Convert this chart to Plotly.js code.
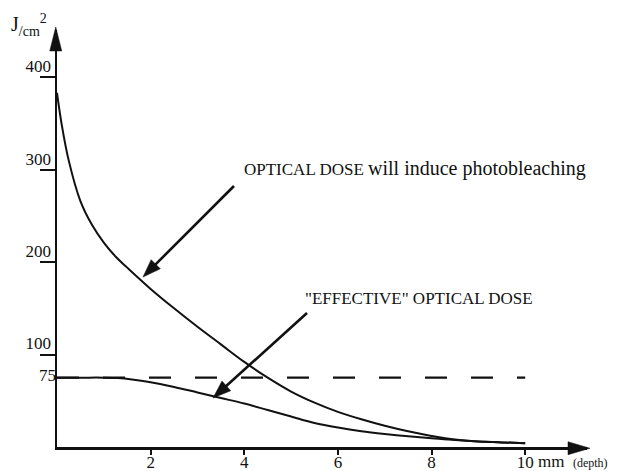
<!DOCTYPE html>
<html><head><meta charset="utf-8">
<script src="https://cdn.plot.ly/plotly-3.0.1.min.js"></script>
<style>html,body{margin:0;padding:0;background:#fff}#chart{width:627px;height:471px}</style>
</head><body><div id="chart"></div>
<script>
// ---- data ----
const depth = [0,0.1,0.25,0.5,0.75,1,1.25,1.5,2,2.5,3,3.5,4,4.5,5,5.5,6,6.5,7,7.5,8,8.5,9,9.5,10];
const opticalDose = [383,349,310,266,240,221,206,194,171,150,130,111,92,75,60,48,38,30,23,17,12,8,6,5,4];
const effDepth = [0,0.5,1,1.3,1.6,2,2.5,3,3.5,4,4.5,5,5.5,6,6.5,7,7.5,8,8.5,9,9.5,10];
const effectiveDose = [75,75,75,74.5,73,70,65,59,53,47,40,33,26,21,17,14,11.5,9.5,7.5,6,5,4];
const thresholdDepth = [0,10];
const thresholdDose = [75,75];
const yTickVals = [100,200,300,400];
const yTickText = ['100','200','300','400'];
const y2TickVals = [75];
const y2TickText = ['75'];
const xTickVals = [2,4,6,8,10];
const xTickText = ['2','4','6','8','10'];

// ---- layout geometry ----
const W = 627, H = 471;
const M = {l:57, r:40, t:30, b:24};
const xRange = [0, 11.32];
const yRange = [0, 451];
const PL = M.l, PR = W - M.r, PT = M.t, PB = H - M.b;
const xp = px => (px - PL) / (PR - PL);
const yp = py => (PB - py) / (PB - PT);
const FONT = 'Liberation Serif, Times New Roman, serif';
const INK = '#111';

function arrowShapes(sx, sy, tx, ty, len, hw, lw) {
  const dx = tx - sx, dy = ty - sy, d = Math.hypot(dx, dy);
  const ux = dx / d, uy = dy / d, nx = -uy, ny = ux;
  const bx = tx - ux * len, by = ty - uy * len;
  const out = [];
  if (lw > 0) out.push({type:'line', xref:'paper', yref:'paper',
    x0: xp(sx), y0: yp(sy), x1: xp(bx + ux*2), y1: yp(by + uy*2),
    line:{color:INK, width:lw}});
  const p = [[tx,ty],[bx+nx*hw, by+ny*hw],[bx-nx*hw, by-ny*hw]];
  out.push({type:'path', xref:'paper', yref:'paper',
    path: 'M' + p.map(q => xp(q[0]).toFixed(5) + ',' + yp(q[1]).toFixed(5)).join(' L') + ' Z',
    fillcolor: INK, line:{color:INK, width:0.5}});
  return out;
}

const shapes = [].concat(
  arrowShapes(55.75, 60, 55.75, 27, 24, 6, 0),       // y axis head
  arrowShapes(560, 448.25, 590, 448.25, 22, 6.5, 0), // x axis head
  arrowShapes(234, 186, 143, 277, 18, 6.5, 2.6),     // callout 1
  arrowShapes(307, 313, 213, 398, 18, 6.5, 2.6)      // callout 2
);

const traces = [
  {x: depth, y: opticalDose, type:'scatter', mode:'lines',
   line:{color:INK, width:2, shape:'spline', smoothing:1}, hoverinfo:'skip'},
  {x: effDepth, y: effectiveDose, type:'scatter', mode:'lines',
   line:{color:INK, width:2, shape:'spline', smoothing:1}, hoverinfo:'skip'},
  {x: thresholdDepth, y: thresholdDose, type:'scatter', mode:'lines', yaxis:'y2',
   line:{color:INK, width:2.4, dash:'22px,24px'}, hoverinfo:'skip'}
];

const layout = {
  width: W, height: H, margin: M,
  paper_bgcolor:'#fff', plot_bgcolor:'#fff', showlegend:false,
  font:{family: FONT, color: INK, size: 17},
  xaxis:{range: xRange, showgrid:false, zeroline:false, showline:true, linecolor:INK, linewidth:2.5,
    tickvals: xTickVals, ticktext: xTickText, ticks:'outside', ticklen:5, tickwidth:2, tickcolor:INK,
    ticklabelstandoff: -7,
    tickfont:{family:FONT, size:17, color:INK}},
  yaxis:{range: yRange, showgrid:false, zeroline:false, showline:true, linecolor:INK, linewidth:2.5,
    tickvals: yTickVals, ticktext: yTickText, ticks:'outside', ticklen:15, tickwidth:2, tickcolor:INK,
    ticklabelshift: -11, ticklabelstandoff: -15,
    tickfont:{family:FONT, size:17, color:INK}},
  yaxis2:{range: yRange, overlaying:'y', side:'left', anchor:'x', showgrid:false, zeroline:false,
    showline:false, tickvals: y2TickVals, ticktext: y2TickText, ticks:'',
    ticklabelshift: -3,
    tickfont:{family:FONT, size:17, color:INK}},
  shapes: shapes,
  annotations:[
    {xref:'paper', yref:'paper', x: xp(9), y: yp(25), xanchor:'left', yanchor:'middle', showarrow:false,
     text:'J<sub>/cm</sub><sup>2</sup>', font:{family:FONT, size:20, color:INK}},
    {xref:'paper', yref:'paper', x: xp(536), y: yp(461), xanchor:'left', yanchor:'middle', showarrow:false,
     text:'mm&nbsp;&nbsp;<span style="font-size:12px">(depth)</span>', font:{family:FONT, size:17, color:INK}},
    {xref:'paper', yref:'paper', x: xp(242), y: yp(168), xanchor:'left', yanchor:'middle', showarrow:false,
     text:'OPTICAL DOSE <span style="font-size:20px">will induce photobleaching</span>', font:{family:FONT, size:17, color:INK}},
    {xref:'paper', yref:'paper', x: xp(303), y: yp(298), xanchor:'left', yanchor:'middle', showarrow:false,
     text:'"EFFECTIVE" OPTICAL DOSE', font:{family:FONT, size:17, color:INK}}
  ]
};

Plotly.newPlot('chart', traces, layout, {staticPlot:true, displayModeBar:false});
</script>
</body></html>
